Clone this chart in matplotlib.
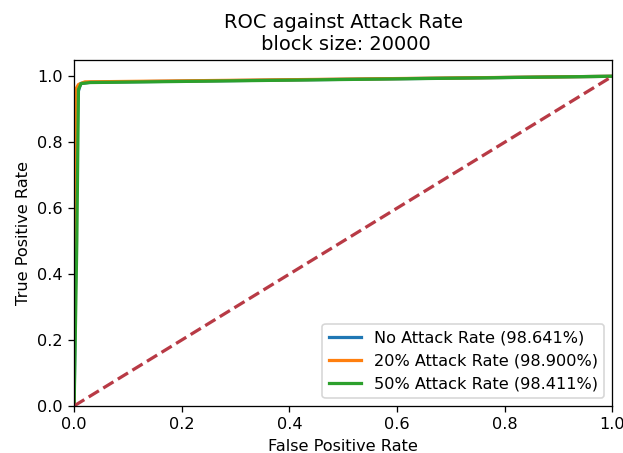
import numpy as np
from matplotlib import pyplot as plt

# ROC points
fpr_none = [0.0, 0.004, 0.007, 0.012, 0.03, 1.0]
tpr_none = [0.0, 0.6, 0.95, 0.978, 0.982, 1.0]
fpr_20 = [0.0, 0.001, 0.003, 0.008, 0.02, 1.0]
tpr_20 = [0.0, 0.6, 0.96, 0.975, 0.983, 1.0]
fpr_50 = [0.0, 0.005, 0.008, 0.013, 0.03, 1.0]
tpr_50 = [0.0, 0.5, 0.96, 0.978, 0.981, 1.0]

labels = [
    "No Attack Rate (98.641%)",
    "20% Attack Rate (98.900%)",
    "50% Attack Rate (98.411%)",
]

DPI = 116
fig = plt.figure(figsize=(623 / DPI, 453 / DPI), dpi=DPI)
ax = fig.add_axes([0.119, 0.104, 0.864, 0.764])
ax.plot(fpr_none, tpr_none, lw=2, label=labels[0])
ax.plot(fpr_20, tpr_20, lw=2, label=labels[1])
ax.plot(fpr_50, tpr_50, lw=2, label=labels[2])
ax.plot([0, 1], [0, 1], "--", lw=2, color="#b83a45")
ax.set_xlim(0.0, 1.0)
ax.set_ylim(0.0, 1.05)
ax.set_xlabel("False Positive Rate")
ax.set_ylabel("True Positive Rate")
ax.set_title("ROC against Attack Rate\n block size: 20000")
ax.legend(loc="lower right")

fig.savefig("out.png", dpi=DPI)
